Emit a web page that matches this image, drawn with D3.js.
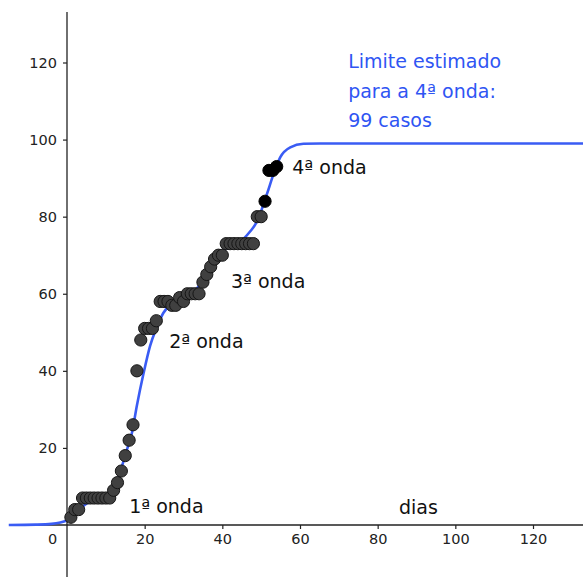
<!DOCTYPE html>
<html>
<head>
<meta charset="utf-8">
<script src="https://cdn.jsdelivr.net/npm/d3@7"></script>
<style>
  body { margin: 0; background: #fff; }
  text { font-family: "DejaVu Sans", sans-serif; }
</style>
</head>
<body>
<div id="chart"></div>
<script>
// cumulative cases per day
var days = [1, 2, 3, 4, 5, 6, 7, 8, 9, 10, 11, 12, 13, 14, 15, 16, 17, 18, 19, 20,
  21, 22, 23, 24, 25, 26, 27, 28, 29, 30, 31, 32, 33, 34, 35, 36, 37, 38, 39, 40,
  41, 42, 43, 44, 45, 46, 47, 48, 49, 50];
var cases = [2, 4, 4, 7, 7, 7, 7, 7, 7, 7, 7, 9, 11, 14, 18, 22, 26, 40, 48, 51,
  51, 51, 53, 58, 58, 58, 57, 57, 59, 58, 60, 60, 60, 60, 63, 65, 67, 69, 70, 70,
  73, 73, 73, 73, 73, 73, 73, 73, 80, 80];

// 4th wave points (black)
var days4 = [51, 52, 53, 54];
var cases4 = [84, 92, 92, 93];

// fitted curve
var curveX = [-15, -8, -4, 0, 2, 4, 7, 9, 11, 12.8, 14.1, 15.4, 16.7, 18, 19.7, 21.4,
  23.1, 24.8, 27, 30, 33.4, 36, 38, 40, 43, 45.5, 47.2, 48.5, 49.7, 51.5, 53.2,
  54.9, 57.5, 60.9, 65.2, 80, 135];
var curveY = [0, 0.1, 0.3, 1.2, 2.8, 4.8, 6.6, 7.2, 8, 10.8, 15.1, 19.4, 23.8, 31, 39.3, 46.5,
  51.2, 55, 57.5, 59, 61.3, 65, 68.5, 71, 73, 74.3, 76.2, 78, 80.7, 85.9, 91.1,
  95.4, 98, 98.9, 99, 99, 99];

var xTicks = [0, 20, 40, 60, 80, 100, 120];
var yTicks = [20, 40, 60, 80, 100, 120];

var waveLabels = ["1ª onda", "2ª onda", "3ª onda", "4ª onda"];
var waveLabelPos = [[16, 3], [26.3, 46], [42.2, 61.5], [58, 91]];
var noteLines = ["Limite estimado", "para a 4ª onda:", "99 casos"];

var svgWidth = 583;
var svgHeight = 577;

var svg = d3.select("#chart")
  .append("svg")
  .attr("width", svgWidth)
  .attr("height", svgHeight);

var xScale = d3.scaleLinear().domain([0, 120]).range([67, 533]);
var yScale = d3.scaleLinear().domain([0, 120]).range([525, 62.5]);

var axisColor = "#222";
var blue = "#3a5cf4";

// axis lines across the whole view
svg.append("line")
  .attr("x1", 10).attr("x2", svgWidth)
  .attr("y1", yScale(0)).attr("y2", yScale(0))
  .attr("stroke", axisColor).attr("stroke-width", 1.3);

svg.append("line")
  .attr("x1", xScale(0)).attr("x2", xScale(0))
  .attr("y1", 12).attr("y2", svgHeight)
  .attr("stroke", axisColor).attr("stroke-width", 1.3);

// ticks
var xAxis = svg.append("g")
  .attr("transform", `translate(0, ${yScale(0)})`)
  .call(d3.axisBottom(xScale).tickValues(xTicks).tickSize(4).tickPadding(5));

var yAxis = svg.append("g")
  .attr("transform", `translate(${xScale(0)}, 0)`)
  .call(d3.axisLeft(yScale).tickValues(yTicks).tickSize(4).tickPadding(6));

[xAxis, yAxis].forEach(g => {
  g.select(".domain").remove();
  g.selectAll("line").attr("stroke", axisColor).attr("stroke-width", 1.2);
  g.selectAll("text")
    .attr("fill", "#222")
    .style("font-family", "DejaVu Sans, sans-serif")
    .style("font-size", "14.5px");
});

// "0" sits left of the y axis, no tick mark there
xAxis.selectAll(".tick").filter(d => d === 0).select("line").remove();
xAxis.selectAll(".tick").filter(d => d === 0).select("text").attr("x", -15);

// fitted curve
var curvePts = curveX.map((v, i) => [v, curveY[i]]);
var line = d3.line()
  .x(d => xScale(d[0]))
  .y(d => yScale(d[1]))
  .curve(d3.curveMonotoneX);

svg.append("path")
  .datum(curvePts)
  .attr("d", line)
  .attr("fill", "none")
  .attr("stroke", blue)
  .attr("stroke-width", 2.6);

// data points
svg.selectAll("circle.pt")
  .data(days)
  .enter()
  .append("circle")
  .attr("class", "pt")
  .attr("cx", (d, i) => xScale(d))
  .attr("cy", (d, i) => yScale(cases[i]))
  .attr("r", 6.1)
  .attr("fill", "#404040")
  .attr("stroke", "#161616")
  .attr("stroke-width", 1);

svg.selectAll("circle.pt4")
  .data(days4)
  .enter()
  .append("circle")
  .attr("class", "pt4")
  .attr("cx", (d, i) => xScale(d))
  .attr("cy", (d, i) => yScale(cases4[i]))
  .attr("r", 6.1)
  .attr("fill", "#000")
  .attr("stroke", "#000")
  .attr("stroke-width", 1);

// wave labels
svg.selectAll("text.wave")
  .data(waveLabels)
  .enter()
  .append("text")
  .attr("class", "wave")
  .attr("x", (d, i) => xScale(waveLabelPos[i][0]))
  .attr("y", (d, i) => yScale(waveLabelPos[i][1]))
  .attr("fill", "#111")
  .style("font-size", "19px")
  .text(d => d);

svg.append("text")
  .attr("x", xScale(85.5))
  .attr("y", yScale(2.9))
  .attr("fill", "#111")
  .style("font-size", "19px")
  .text("dias");

// blue note
svg.selectAll("text.note")
  .data(noteLines)
  .enter()
  .append("text")
  .attr("class", "note")
  .attr("x", xScale(72.4))
  .attr("y", (d, i) => 68 + i * 29.5)
  .attr("fill", "#2f55f3")
  .style("font-size", "19px")
  .text(d => d);
</script>
</body>
</html>
